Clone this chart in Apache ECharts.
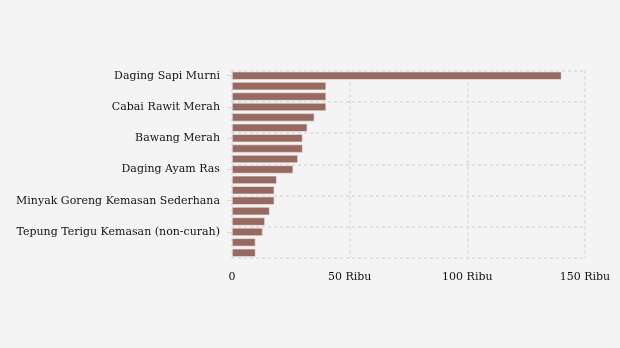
<!DOCTYPE html>
<html><head><meta charset="utf-8">
<script src="https://cdn.jsdelivr.net/npm/echarts@6/dist/echarts.min.js"></script>
<style>html,body{margin:0;padding:0;background:#f4f4f4}#c{width:620px;height:348px}</style>
</head><body><div id="c"></div>
<script>
const categories = [
  "Daging Sapi Murni","Cabai Merah Keriting","Cabai Merah Besar",
  "Cabai Rawit Merah","Bawang Putih Bonggol","Ikan Bandeng",
  "Bawang Merah","Telur Ayam Ras","Ikan Kembung",
  "Daging Ayam Ras","Gula Konsumsi","Minyak Goreng Curah",
  "Minyak Goreng Kemasan Sederhana","Beras Premium","Beras Medium",
  "Tepung Terigu Kemasan (non-curah)","Tepung Terigu Curah","Jagung Tk Peternak"
];
const values = [140000,40000,40000,40000,35000,32000,30000,30000,28000,26000,19000,18000,18000,16000,14000,13000,10000,10000];
const xTicks = [0,50000,100000,150000];
const xTickLabels = ["0","50 Ribu","100 Ribu","150 Ribu"];

const chart = echarts.init(document.getElementById('c'));
chart.setOption({
  backgroundColor:'#f4f4f4',
  animation:false,
  textStyle:{fontFamily:'DejaVu Serif'},
  grid:{left:232,right:35,top:70.5,bottom:90,containLabel:false},
  xAxis:{
    type:'value',min:0,max:150000,interval:50000,
    axisLine:{show:false},axisTick:{show:false},
    axisLabel:{color:'#111',fontSize:11,fontFamily:'DejaVu Serif',margin:14,
      formatter:v=>xTickLabels[xTicks.indexOf(v)]},
    splitLine:{show:true,lineStyle:{color:'#d9d9d9',type:[3,3],width:1.5}}
  },
  yAxis:{
    type:'category',data:categories,inverse:true,
    axisLine:{show:false},
    axisTick:{show:true,alignWithLabel:true,interval:2,length:5,lineStyle:{color:'#d9d9d9'}},
    axisLabel:{interval:2,color:'#111',fontSize:11,fontFamily:'DejaVu Serif',margin:12},
    splitLine:{show:true,interval:2,lineStyle:{color:'#d9d9d9',type:[3,3],width:1.5}}
  },
  series:[{
    type:'bar',data:values,barCategoryGap:'22%',
    itemStyle:{color:'#976a61',borderColor:'#f7e8e6',borderWidth:0.6}
  }]
});
</script></body></html>
